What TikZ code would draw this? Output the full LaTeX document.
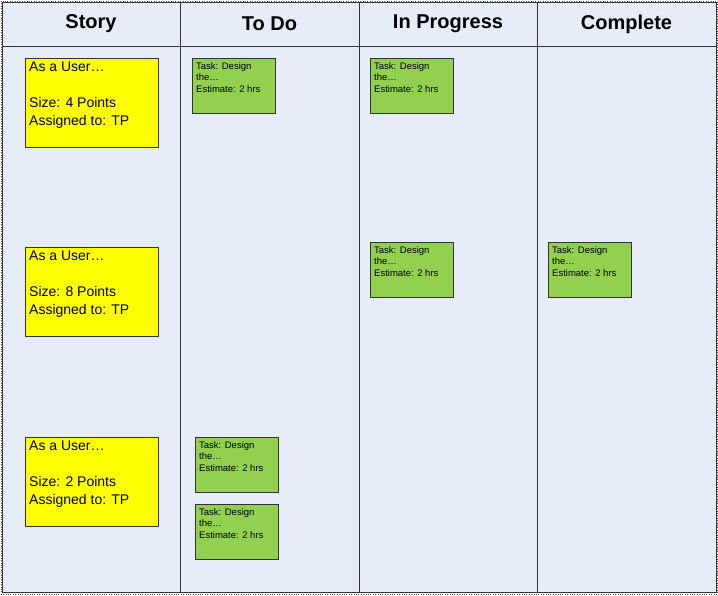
\documentclass[tikz,border=0pt]{standalone}
\usepackage{fontspec}
\setmainfont{Liberation Sans}
\definecolor{bgblue}{HTML}{E7EDF8}
\definecolor{story}{HTML}{FFFF00}
\definecolor{task}{HTML}{92D050}
\tikzset{
  storycard/.style={draw=black!80,fill=story,anchor=north west,minimum width=133pt,minimum height=89pt,inner sep=0pt},
  storytext/.style={anchor=north west,align=left,inner sep=0pt,font=\fontsize{14}{18}\selectfont,xshift=4pt,yshift=-4pt},
  taskcard/.style={draw=black!80,fill=task,anchor=north west,minimum width=83pt,minimum height=55pt,inner sep=0pt},
  tasktext/.style={anchor=north west,align=left,inner sep=0pt,font=\fontsize{9.5}{11.5}\selectfont,xshift=4pt,yshift=-4pt},
  head/.style={font=\bfseries\fontsize{20}{24}\selectfont}
}
\begin{document}
\begin{tikzpicture}[x=1pt,y=-1pt]
\useasboundingbox (0,0) rectangle (718,595);
\fill[bgblue] (2,2) rectangle (716,592);
\draw[black!70,dotted] (1,1) rectangle (717,594);
\draw[black!80] (2,46) -- (716,46);
\foreach \x in {180,359,537} \draw[black!80] (\x,2) -- (\x,592);
\draw[black!80] (2,2) rectangle (716,592);
\node[head] (h1) at (91,24) {Story};
\node[head] (h2) at (269.5,24) {To Do};
\node[head] (h3) at (448,24) {In Progress};
\node[head] (h4) at (626.5,24) {Complete};
\foreach \y/\s/\n in {58/4/s1,247/8/s2,437/2/s3}{
  \node[storycard] (\n) at (25,\y) {};
  \node[storytext] (\n t) at (\n.north west) {As a User…\\[18pt]Size: \s\ Points\\Assigned to: TP};
}
\foreach \x/\y/\n in {192/58/t1,370/58/t2,370/242/t3,548/242/t4,195/437/t5,195/504/t6}{
  \node[taskcard] (\n) at (\x,\y) {};
  \node[tasktext] (\n t) at (\n.north west) {Task: Design\\the…\\Estimate: 2 hrs};
}
\end{tikzpicture}
\end{document}
